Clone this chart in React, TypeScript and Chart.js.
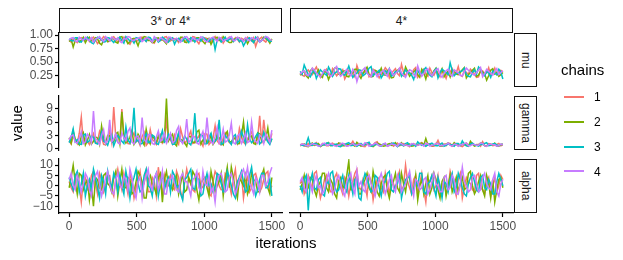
import React, { useEffect, useRef } from "react";
import { Chart, registerables } from "chart.js";
Chart.register(...registerables);

// ---------- data ----------
const iterations = [
  0, 15, 30, 45, 60, 75, 90, 105, 120, 135,
  150, 165, 180, 195, 210, 225, 240, 255, 270, 285,
  300, 315, 330, 345, 360, 375, 390, 405, 420, 435,
  450, 465, 480, 495, 510, 525, 540, 555, 570, 585,
  600, 615, 630, 645, 660, 675, 690, 705, 720, 735,
  750, 765, 780, 795, 810, 825, 840, 855, 870, 885,
  900, 915, 930, 945, 960, 975, 990, 1005, 1020, 1035,
  1050, 1065, 1080, 1095, 1110, 1125, 1140, 1155, 1170, 1185,
  1200, 1215, 1230, 1245, 1260, 1275, 1290, 1305, 1320, 1335,
  1350, 1365, 1380, 1395, 1410, 1425, 1440, 1455, 1470, 1485,
  1500,
];
const chainNames = ["1", "2", "3", "4"];
const chainColors = ["#F8766D", "#7CAE00", "#00BFC4", "#C77CFF"];
const columnLabels = ["3* or 4*", "4*"];
const rowLabels = ["mu", "gamma", "alpha"];
const xTickValues = [0, 500, 1000, 1500];
const muTicks = [0.25, 0.5, 0.75, 1.0];
const gammaTicks = [0, 3, 6, 9];
const alphaTicks = [-10, -5, 0, 5, 10];

// mu, "3* or 4*"
const muL1 = [
  0.90, 0.87, 0.93, 0.89, 0.86, 0.94, 0.95, 0.90, 0.91, 0.96,
  0.88, 0.93, 0.96, 0.91, 0.84, 0.89, 0.92, 0.97, 0.94, 0.88,
  0.89, 0.95, 0.97, 0.92, 0.87, 0.90, 0.91, 0.96, 0.95, 0.86,
  0.83, 0.91, 0.93, 0.88, 0.90, 0.95, 0.96, 0.92, 0.88, 0.94,
  0.92, 0.87, 0.85, 0.93, 0.94, 0.90, 0.91, 0.96, 0.97, 0.89,
  0.89, 0.94, 0.93, 0.91, 0.86, 0.95, 0.95, 0.88, 0.90, 0.93,
  0.92, 0.97, 0.96, 0.89, 0.84, 0.92, 0.91, 0.95, 0.94, 0.87,
  0.88, 0.93, 0.97, 0.90, 0.90, 0.95, 0.85, 0.91, 0.93, 0.96,
  0.91, 0.88, 0.95, 0.92, 0.87, 0.94, 0.92, 0.89, 0.96, 0.93,
  0.89, 0.95, 0.79, 0.90, 0.93, 0.96, 0.90, 0.87, 0.94, 0.91,
  0.88,
];
const muL2 = [
  0.88, 0.92, 0.78, 0.90, 0.94, 0.87, 0.91, 0.96, 0.86, 0.93,
  0.96, 0.89, 0.90, 0.95, 0.93, 0.85, 0.82, 0.91, 0.95, 0.88,
  0.89, 0.94, 0.92, 0.87, 0.85, 0.96, 0.97, 0.90, 0.91, 0.84,
  0.88, 0.93, 0.94, 0.89, 0.80, 0.92, 0.93, 0.97, 0.96, 0.90,
  0.90, 0.86, 0.87, 0.94, 0.95, 0.91, 0.92, 0.88, 0.84, 0.95,
  0.94, 0.90, 0.91, 0.93, 0.89, 0.96, 0.96, 0.87, 0.86, 0.92,
  0.93, 0.89, 0.90, 0.95, 0.95, 0.91, 0.88, 0.84, 0.92, 0.94,
  0.83, 0.90, 0.94, 0.96, 0.91, 0.88, 0.97, 0.93, 0.89, 0.86,
  0.86, 0.92, 0.93, 0.95, 0.95, 0.89, 0.90, 0.94, 0.84, 0.91,
  0.94, 0.87, 0.92, 0.96, 0.88, 0.90, 0.96, 0.93, 0.91, 0.85,
  0.93,
];
const muL3 = [
  0.93, 0.90, 0.89, 0.95, 0.95, 0.88, 0.87, 0.93, 0.92, 0.96,
  0.90, 0.86, 0.84, 0.91, 0.96, 0.94, 0.91, 0.87, 0.88, 0.95,
  0.94, 0.90, 0.86, 0.92, 0.93, 0.96, 0.90, 0.85, 0.97, 0.93,
  0.89, 0.91, 0.85, 0.95, 0.94, 0.88, 0.91, 0.92, 0.88, 0.96,
  0.95, 0.89, 0.92, 0.94, 0.87, 0.90, 0.96, 0.93, 0.90, 0.87,
  0.93, 0.95, 0.83, 0.91, 0.94, 0.89, 0.89, 0.96, 0.91, 0.86,
  0.95, 0.92, 0.87, 0.94, 0.92, 0.89, 0.96, 0.93, 0.90, 0.88,
  0.93, 0.95, 0.73, 0.90, 0.94, 0.87, 0.91, 0.96, 0.89, 0.92,
  0.95, 0.88, 0.92, 0.94, 0.88, 0.91, 0.80, 0.87, 0.93, 0.95,
  0.90, 0.86, 0.96, 0.92, 0.87, 0.90, 0.94, 0.97, 0.91, 0.88,
  0.89,
];
const muL4 = [
  0.91, 0.94, 0.95, 0.89, 0.88, 0.96, 0.93, 0.90, 0.96, 0.92,
  0.90, 0.95, 0.87, 0.93, 0.94, 0.97, 0.92, 0.88, 0.97, 0.93,
  0.89, 0.96, 0.93, 0.91, 0.95, 0.88, 0.86, 0.94, 0.92, 0.97,
  0.96, 0.90, 0.90, 0.93, 0.94, 0.96, 0.88, 0.91, 0.95, 0.94,
  0.91, 0.87, 0.97, 0.93, 0.89, 0.95, 0.93, 0.90, 0.86, 0.96,
  0.96, 0.91, 0.92, 0.94, 0.90, 0.87, 0.94, 0.96, 0.97, 0.92,
  0.88, 0.95, 0.93, 0.90, 0.91, 0.97, 0.95, 0.89, 0.87, 0.93,
  0.94, 0.96, 0.92, 0.88, 0.96, 0.94, 0.89, 0.91, 0.93, 0.95,
  0.97, 0.90, 0.90, 0.96, 0.94, 0.92, 0.88, 0.95, 0.92, 0.89,
  0.95, 0.93, 0.91, 0.96, 0.87, 0.90, 0.93, 0.97, 0.96, 0.92,
  0.90,
];
// mu, "4*"
const muR1 = [
  0.30, 0.26, 0.24, 0.33, 0.36, 0.29, 0.27, 0.35, 0.41, 0.31,
  0.22, 0.28, 0.33, 0.37, 0.28, 0.24, 0.38, 0.32, 0.25, 0.30,
  0.31, 0.36, 0.19, 0.27, 0.35, 0.31, 0.29, 0.23, 0.44, 0.33,
  0.26, 0.30, 0.32, 0.38, 0.23, 0.27, 0.37, 0.34, 0.30, 0.21,
  0.27, 0.32, 0.40, 0.35, 0.21, 0.29, 0.34, 0.38, 0.29, 0.25,
  0.46, 0.31, 0.25, 0.33, 0.31, 0.27, 0.36, 0.40, 0.22, 0.28,
  0.33, 0.37, 0.28, 0.24, 0.39, 0.31, 0.26, 0.34, 0.30, 0.23,
  0.35, 0.29, 0.20, 0.33, 0.32, 0.38, 0.27, 0.30, 0.42, 0.26,
  0.24, 0.35, 0.31, 0.28, 0.37, 0.33, 0.28, 0.22, 0.23, 0.36,
  0.34, 0.29, 0.30, 0.40, 0.26, 0.31, 0.39, 0.27, 0.29, 0.35,
  0.32,
];
const muR2 = [
  0.26, 0.31, 0.33, 0.25, 0.21, 0.34, 0.38, 0.29, 0.29, 0.36,
  0.25, 0.22, 0.35, 0.30, 0.18, 0.27, 0.31, 0.39, 0.40, 0.28,
  0.27, 0.33, 0.34, 0.24, 0.23, 0.32, 0.30, 0.37, 0.37, 0.26,
  0.20, 0.29, 0.36, 0.41, 0.28, 0.23, 0.24, 0.35, 0.33, 0.30,
  0.39, 0.27, 0.26, 0.34, 0.30, 0.21, 0.22, 0.31, 0.35, 0.38,
  0.28, 0.25, 0.41, 0.33, 0.24, 0.29, 0.32, 0.36, 0.27, 0.22,
  0.37, 0.31, 0.19, 0.34, 0.30, 0.26, 0.34, 0.39, 0.25, 0.30,
  0.38, 0.23, 0.29, 0.33, 0.23, 0.36, 0.33, 0.28, 0.27, 0.31,
  0.36, 0.40, 0.21, 0.27, 0.31, 0.35, 0.39, 0.24, 0.26, 0.33,
  0.32, 0.29, 0.17, 0.25, 0.35, 0.38, 0.28, 0.31, 0.24, 0.27,
  0.31,
];
const muR3 = [
  0.33, 0.28, 0.45, 0.36, 0.27, 0.23, 0.31, 0.35, 0.20, 0.29,
  0.36, 0.32, 0.29, 0.26, 0.41, 0.34, 0.24, 0.30, 0.32, 0.38,
  0.37, 0.28, 0.26, 0.33, 0.43, 0.31, 0.22, 0.27, 0.30, 0.36,
  0.35, 0.25, 0.28, 0.32, 0.39, 0.42, 0.25, 0.29, 0.31, 0.35,
  0.21, 0.27, 0.34, 0.30, 0.38, 0.24, 0.27, 0.33, 0.32, 0.37,
  0.24, 0.29, 0.36, 0.31, 0.30, 0.26, 0.18, 0.33, 0.35, 0.28,
  0.29, 0.36, 0.40, 0.31, 0.26, 0.23, 0.33, 0.38, 0.21, 0.30,
  0.37, 0.34, 0.31, 0.27, 0.49, 0.35, 0.25, 0.29, 0.30, 0.33,
  0.34, 0.39, 0.27, 0.24, 0.23, 0.31, 0.36, 0.28, 0.41, 0.37,
  0.28, 0.25, 0.33, 0.30, 0.22, 0.34, 0.30, 0.27, 0.37, 0.32,
  0.19,
];
const muR4 = [
  0.28, 0.32, 0.34, 0.27, 0.25, 0.31, 0.39, 0.35, 0.30, 0.26,
  0.23, 0.29, 0.36, 0.33, 0.31, 0.24, 0.27, 0.38, 0.42, 0.30,
  0.24, 0.28, 0.33, 0.37, 0.29, 0.25, 0.37, 0.32, 0.14, 0.27,
  0.32, 0.36, 0.40, 0.30, 0.26, 0.23, 0.35, 0.31, 0.23, 0.28,
  0.31, 0.35, 0.28, 0.24, 0.38, 0.33, 0.25, 0.29, 0.33, 0.39,
  0.30, 0.26, 0.22, 0.31, 0.36, 0.34, 0.27, 0.23, 0.43, 0.32,
  0.24, 0.29, 0.35, 0.38, 0.29, 0.25, 0.31, 0.36, 0.38, 0.27,
  0.22, 0.30, 0.34, 0.37, 0.27, 0.24, 0.36, 0.33, 0.30, 0.26,
  0.25, 0.32, 0.39, 0.35, 0.32, 0.28, 0.26, 0.31, 0.35, 0.40,
  0.23, 0.29, 0.37, 0.33, 0.30, 0.26, 0.33, 0.38, 0.27, 0.31,
  0.34,
];
// gamma, "3* or 4*"
const gammaL1 = [
  1.8, 1.1, 2.9, 2.0, 1.2, 3.5, 7.1, 1.4, 2.3, 1.7,
  1.0, 2.4, 3.4, 1.3, 1.6, 3.9, 2.7, 1.0, 0.9, 2.2,
  4.1, 1.5, 9.4, 2.6, 1.5, 1.1, 8.9, 3.0, 2.2, 1.2,
  1.1, 2.8, 3.6, 1.6, 1.9, 0.8, 2.8, 3.7, 0.8, 1.4,
  4.3, 2.1, 1.7, 1.0, 2.5, 3.2, 1.3, 1.8, 6.3, 2.4,
  2.0, 1.1, 3.1, 1.7, 1.0, 4.5, 2.6, 1.3, 1.8, 2.9,
  4.0, 1.2, 1.4, 2.3, 2.9, 1.5, 0.6, 3.4, 3.3, 1.0,
  1.6, 2.5, 5.2, 1.8, 1.2, 0.9, 2.4, 3.6, 3.0, 1.4,
  1.1, 2.0, 2.7, 1.3, 4.6, 2.8, 1.5, 1.0, 2.2, 3.1,
  3.8, 1.6, 1.3, 2.3, 7.4, 1.2, 6.5, 2.5, 2.1, 1.4,
  3.5,
];
const gammaL2 = [
  2.5, 1.3, 4.0, 2.2, 1.4, 0.9, 2.8, 3.6, 0.9, 1.9,
  3.2, 1.1, 1.7, 2.7, 2.4, 1.0, 5.1, 2.3, 1.2, 3.0,
  2.9, 1.5, 1.6, 3.4, 3.7, 1.2, 8.3, 2.6, 1.3, 1.8,
  2.6, 4.1, 1.0, 1.7, 3.3, 2.5, 1.8, 0.9, 4.4, 2.0,
  1.1, 2.9, 2.3, 1.4, 3.0, 1.6, 1.5, 2.4, 11.3, 1.8,
  2.7, 3.3, 1.2, 0.7, 3.5, 2.1, 1.9, 1.3, 0.6, 2.8,
  2.8, 1.5, 1.4, 3.8, 4.2, 1.1, 2.0, 2.6, 1.3, 1.7,
  3.1, 1.0, 1.7, 2.9, 2.5, 1.4, 0.9, 3.2, 3.9, 1.6,
  1.6, 2.2, 2.4, 1.1, 1.2, 3.0, 6.0, 1.5, 1.8, 2.7,
  2.9, 1.2, 1.0, 3.6, 3.4, 1.8, 1.5, 2.3, 4.7, 1.3,
  2.2,
];
const gammaL3 = [
  1.4, 2.6, 4.5, 1.6, 2.1, 1.1, 1.0, 3.1, 3.3, 1.5,
  1.8, 2.9, 2.6, 1.3, 1.1, 2.3, 3.8, 1.7, 1.5, 0.8,
  2.3, 3.2, 0.7, 1.9, 3.0, 2.4, 1.7, 1.2, 4.9, 2.0,
  1.3, 3.4, 9.2, 1.6, 2.0, 1.1, 1.2, 2.7, 3.4, 1.4,
  1.6, 3.1, 2.8, 1.2, 1.0, 2.5, 4.1, 1.5, 1.9, 3.3,
  2.5, 1.0, 1.1, 2.1, 3.6, 1.8, 1.4, 2.9, 2.2, 1.3,
  0.9, 2.4, 8.0, 1.5, 1.8, 3.2, 2.9, 1.1, 1.2, 2.6,
  3.5, 1.4, 1.7, 2.3, 6.5, 1.0, 1.3, 3.0, 2.4, 1.7,
  1.0, 2.8, 3.2, 1.3, 1.9, 4.0, 2.6, 1.2, 5.4, 2.2,
  1.4, 1.9, 2.8, 3.5, 1.1, 1.6, 3.7, 2.4, 1.6, 1.0,
  2.3,
];
const gammaL4 = [
  2.0, 2.9, 3.1, 1.5, 1.3, 2.4, 3.8, 1.2, 1.6, 3.3,
  2.7, 1.4, 8.5, 2.2, 1.9, 1.0, 3.0, 4.3, 1.2, 2.0,
  6.5, 1.6, 2.2, 3.4, 1.4, 1.1, 3.6, 2.5, 1.8, 3.9,
  4.7, 1.5, 1.1, 2.7, 2.9, 1.3, 7.0, 2.1, 1.5, 3.2,
  3.2, 1.2, 1.0, 2.6, 4.0, 1.7, 2.1, 3.5, 1.3, 2.3,
  3.5, 1.4, 1.7, 4.1, 5.0, 1.9, 1.2, 2.4, 6.7, 1.5,
  1.9, 3.0, 2.6, 1.3, 1.0, 2.7, 3.9, 1.6, 7.0, 2.2,
  1.6, 1.1, 2.8, 4.8, 1.3, 2.0, 4.4, 1.5, 1.8, 3.1,
  5.8, 1.4, 1.1, 2.9, 3.3, 1.2, 2.0, 3.6, 1.4, 1.7,
  6.0, 2.3, 1.7, 1.2, 3.1, 2.6, 1.2, 3.4, 2.5, 1.5,
  4.2,
];
// gamma, "4*"
const gammaR1 = [
  0.9, 1.1, 0.6, 0.8, 1.2, 0.7, 0.8, 1.0, 1.4, 0.9,
  0.5, 1.2, 1.0, 0.7, 0.7, 1.1, 1.3, 0.8, 0.9, 1.3,
  0.6, 0.9, 1.1, 0.6, 0.8, 1.0, 1.7, 0.9, 0.7, 1.2,
  1.0, 0.6, 0.5, 1.1, 1.2, 0.8, 0.9, 1.4, 1.6, 0.7,
  0.7, 1.0, 1.1, 0.6, 0.8, 1.3, 0.6, 0.9, 1.3, 0.7,
  0.9, 1.2, 1.0, 0.8, 0.5, 1.1, 1.2, 0.7, 0.8, 1.0,
  1.4, 0.9, 0.7, 1.2, 1.0, 0.6, 0.6, 1.0, 1.9, 0.8,
  0.9, 1.1, 0.7, 1.3, 1.2, 0.6, 0.8, 1.0, 1.1, 0.7,
  0.5, 0.9, 1.3, 0.8, 0.9, 1.2, 0.7, 1.0, 1.0, 0.6,
  1.6, 0.8, 0.6, 1.2, 1.1, 0.7, 0.8, 1.0, 1.2, 0.7,
  0.9,
];
const gammaR2 = [
  0.7, 0.9, 1.1, 0.6, 0.5, 1.0, 1.3, 0.8, 0.9, 1.2,
  0.6, 0.8, 1.0, 1.1, 1.4, 0.7, 0.8, 1.0, 0.6, 1.3,
  1.2, 0.7, 0.7, 0.9, 1.0, 1.2, 0.9, 0.6, 1.5, 1.0,
  0.6, 0.8, 1.1, 1.3, 0.8, 0.7, 0.5, 0.9, 1.3, 1.1,
  0.9, 0.6, 0.7, 1.0, 1.2, 0.8, 1.0, 1.4, 0.6, 0.9,
  1.4, 0.7, 0.8, 1.1, 1.1, 0.6, 0.7, 1.0, 0.9, 1.2,
  1.3, 0.8, 2.3, 0.9, 1.0, 0.7, 0.8, 1.2, 1.2, 0.6,
  0.6, 0.9, 1.1, 1.3, 0.9, 0.7, 1.4, 1.0, 0.7, 0.8,
  1.0, 1.2, 0.8, 0.6, 1.7, 1.1, 0.6, 0.8, 0.9, 1.3,
  1.2, 0.7, 0.7, 1.0, 1.0, 0.9, 1.3, 0.6, 0.6, 1.0,
  1.1,
];
const gammaR3 = [
  1.0, 0.8, 0.7, 1.1, 2.5, 0.9, 0.8, 1.2, 1.2, 0.7,
  0.6, 1.0, 0.9, 1.3, 1.3, 0.8, 0.7, 1.0, 1.1, 0.6,
  0.5, 0.9, 1.0, 1.2, 1.4, 0.7, 0.8, 1.1, 0.6, 0.9,
  1.2, 0.8, 0.9, 1.3, 1.5, 0.6, 0.7, 1.0, 1.0, 0.8,
  0.6, 1.1, 1.1, 0.7, 0.8, 1.2, 1.3, 0.9, 0.5, 1.0,
  0.9, 0.7, 1.2, 1.4, 0.7, 0.8, 1.0, 0.6, 1.6, 1.1,
  0.8, 1.0, 0.6, 0.9, 1.1, 1.3, 0.9, 0.7, 0.7, 1.0,
  1.3, 0.6, 0.8, 1.1, 1.0, 0.9, 0.6, 1.2, 1.2, 0.8,
  1.8, 1.0, 0.7, 0.6, 1.1, 1.3, 0.9, 0.8, 0.6, 1.0,
  1.0, 1.2, 1.4, 0.7, 0.8, 1.1, 1.2, 0.9, 0.7, 1.0,
  1.0,
];
const gammaR4 = [
  0.8, 1.1, 1.0, 0.7, 0.6, 0.9, 1.2, 1.0, 0.9, 0.6,
  0.7, 1.1, 1.3, 0.8, 0.8, 1.2, 1.0, 0.7, 0.6, 0.9,
  1.1, 1.3, 0.9, 0.6, 0.7, 1.0, 1.2, 0.8, 0.8, 1.1,
  1.0, 0.7, 1.4, 1.2, 0.6, 0.9, 0.9, 1.3, 1.1, 0.7,
  0.7, 1.0, 1.3, 0.6, 0.8, 1.1, 1.0, 0.9, 0.6, 1.2,
  1.2, 0.8, 0.9, 0.7, 0.7, 1.2, 1.1, 0.9, 0.8, 1.0,
  1.0, 0.6, 1.3, 1.1, 0.6, 0.8, 0.9, 1.2, 1.2, 0.7,
  0.7, 0.9, 1.0, 1.3, 0.8, 0.6, 1.1, 1.0, 0.6, 0.9,
  0.9, 1.2, 1.3, 0.7, 0.7, 1.0, 1.0, 0.8, 0.8, 1.3,
  1.2, 0.7, 0.6, 1.0, 1.1, 0.9, 0.9, 0.6, 0.7, 1.1,
  1.0,
];
// alpha, "3* or 4*"
const alphaL1 = [
  2, -1, -3, 4, 6, 0, -8, 3, 4, -2,
  -1, 5, 7, 1, -4, 6, 3, -3, 0, 5,
  5, -2, -5, 3, 8, 2, -2, 6, 1, -4,
  6, 2, -6, -1, 3, 7, -1, 1, 7, -3,
  -3, 4, 2, -5, 9, 1, -4, 5, 0, 3,
  5, -1, -2, 7, 4, -3, -6, 2, 8, 3,
  1, -2, -3, 5, 6, 0, -1, 4, 3, -4,
  -5, 2, 7, 5, 0, -2, -2, 6, 5, 1,
  -4, 3, 8, -2, 2, 6, -6, 1, 4, -3,
  -1, 5, 6, 2, -3, -1, 3, 6, 7, -2,
  0,
];
const alphaL2 = [
  -1, 4, 10, 2, -4, 6, 5, -2, 1, 3,
  -7, 0, -10, 4, 3, -1, -2, 5, 6, 1,
  0, -3, 4, 7, -5, 2, 8, -1, -1, 4,
  3, -4, -3, 2, 7, 5, 2, -6, -6, 3,
  5, 1, -1, -4, 4, 6, -8, 3, 7, 0,
  0, -2, 3, 5, -4, 1, 6, -3, -2, 4,
  1, 7, 5, -2, -7, 1, 3, 4, -1, -5,
  7, 2, -3, 0, 2, 6, -5, 3, 9, -1,
  9, 4, -2, -6, 4, 2, 0, 5, -4, -1,
  6, 3, 2, -3, -3, 5, 8, 1, -1, -4,
  4,
];
const alphaL3 = [
  4, 1, -2, 5, 7, -3, 1, 6, -5, 0,
  3, -2, 8, 4, -1, -6, 5, 2, -4, 7,
  2, -1, 6, 3, -3, 5, 0, -4, 7, 2,
  -6, 1, 4, 8, 1, -3, -2, 5, 8, 0,
  -1, -5, 3, 6, -5, 1, 6, -2, 2, 4,
  -3, 7, 5, -1, 0, -4, -7, 3, 4, 6,
  8, -1, -2, 4, 3, -5, -4, 2, 6, 0,
  1, -3, -1, 6, 5, 1, -3, -2, 7, 4,
  0, -4, -6, 2, 4, 7, 2, -3, -2, 5,
  9, 1, -5, -2, 3, 6, 6, -1, -1, 3,
  -5,
];
const alphaL4 = [
  3, 6, 0, -2, 5, 2, -3, 1, 6, 4,
  -2, -5, 2, 5, 7, 1, -5, -1, 4, 7,
  1, -3, -4, 3, 6, 0, -1, 5, 3, -2,
  8, 4, -3, -6, 2, 4, -6, 2, 5, 8,
  0, -2, 4, 6, -2, 1, 7, -4, -4, 3,
  3, 5, 1, -2, -3, 4, 6, 2, 2, -1,
  -5, 3, 4, 7, -1, -3, 7, 1, 0, 5,
  -3, -1, -8, 2, 5, 6, 2, -3, -2, 4,
  6, 2, -4, -1, 3, 6, 8, 4, 9, 1,
  -1, -4, 4, 2, -3, 5, 5, 0, 2, 6,
  9,
];
// alpha, "4*"
const alphaR1 = [
  1, 3, -4, -1, 5, 2, -2, 6, 7, 0,
  -6, -2, 3, 5, 0, -3, -3, 4, 6, 1,
  -1, -4, 4, 2, -5, 1, 2, 6, 8, -1,
  -2, 3, 0, -5, 5, 2, -7, -1, 3, 4,
  -1, -3, 6, 1, -4, 3, 1, -2, 4, 7,
  -3, 0, 10, 2, -1, -4, 3, 5, -5, 1,
  6, -2, -8, 3, 2, 5, -2, 0, 5, -3,
  0, 2, -4, -1, 7, 3, -1, -5, 3, 6,
  -6, -1, 4, 2, 1, -2, -3, 5, 6, -1,
  -2, -4, 2, 4, -5, 0, 4, -3, 0, 5,
  3,
];
const alphaR2 = [
  -2, 1, 5, -3, -1, 4, 3, -2, -5, 0,
  2, 6, 6, -1, -3, 3, 1, -4, -6, 2,
  4, -1, 0, 5, 12, -2, -2, 3, 5, -4,
  -4, 1, 3, 6, -1, -3, 7, 2, -3, -5,
  1, 4, 5, -2, -6, 0, 2, 6, -1, -3,
  6, 1, -3, 4, 4, -2, -2, 5, -7, 0,
  3, -4, 1, 5, -4, -1, 6, 3, -2, -6,
  2, 4, -5, 0, 5, -3, 0, 4, -3, 1,
  4, -2, -1, 6, 7, 0, -4, -2, 2, 5,
  -2, -5, 5, 1, -6, 3, -8, -2, 3, 4,
  -1,
];
const alphaR3 = [
  0, -3, 3, 5, -12, 2, 6, -1, -2, 3,
  4, -4, -5, 2, 1, 6, 7, 0, -3, -2,
  2, 5, -1, -3, 5, 1, -4, 3, 3, -6,
  -7, 2, 6, 4, 0, -3, -2, 5, 4, -1,
  -5, 1, 2, 6, 7, -2, -3, 0, 1, 5,
  -6, -1, 3, 4, 5, -4, -2, 2, 0, 6,
  6, -3, -4, 1, 2, 5, -1, -5, 4, 0,
  -6, 2, 1, -3, 3, 6, -3, -1, 6, 3,
  -1, -4, -5, 1, 4, 6, 2, -2, -3, 4,
  5, -1, -2, 3, 1, -4, -4, 2, 6, 3,
  0,
];
const alphaR4 = [
  2, 4, -1, -3, 4, 1, -3, 2, 5, -1,
  0, -4, -2, 3, 6, 1, -4, -2, 3, 5,
  1, -3, -5, 2, 4, 6, -1, -4, 7, 0,
  2, -2, -3, 4, 5, 1, -2, -5, 0, 3,
  6, 2, -4, -1, 3, 5, -1, -3, 5, 2,
  -3, -1, 1, 4, 7, 0, -5, 3, 2, -2,
  -1, 3, 4, -4, -2, 2, 6, 1, 0, -3,
  -3, 4, 5, -2, -1, 5, 3, -4, -4, 1,
  9, 2, 0, -3, -2, 4, 5, 1, -3, -2,
  4, 6, 1, -1, -2, 3, 6, -3, -5, 1,
  3,
];

// ---------- layout ----------
const FONT = "'Liberation Sans', Arial, Helvetica, sans-serif";
const COL_X = [59, 290];
const PANEL_W = 223;
const ROW_Y = [33, 96, 159];
const PANEL_H = 54;
const M = 14;
const YAXIS_W = 45;
const XAXIS_H = 24;

type PanelDef = {
  col: number;
  row: number;
  series: number[][];
  yMin: number;
  yMax: number;
  yTicks: number[];
  yFmt: (v: number) => string;
};

const fmtMu = (v: number) => v.toFixed(2);
const fmtInt = (v: number) => (v < 0 ? "\u2212" + Math.abs(v) : String(v));

const panels: PanelDef[] = [
  { col: 0, row: 0, series: [muL1, muL2, muL3, muL4], yMin: 0.043, yMax: 1.037, yTicks: muTicks, yFmt: fmtMu },
  { col: 1, row: 0, series: [muR1, muR2, muR3, muR4], yMin: 0.043, yMax: 1.037, yTicks: muTicks, yFmt: fmtMu },
  { col: 0, row: 1, series: [gammaL1, gammaL2, gammaL3, gammaL4], yMin: -0.25, yMax: 11.85, yTicks: gammaTicks, yFmt: fmtInt },
  { col: 1, row: 1, series: [gammaR1, gammaR2, gammaR3, gammaR4], yMin: -0.25, yMax: 11.85, yTicks: gammaTicks, yFmt: fmtInt },
  { col: 0, row: 2, series: [alphaL1, alphaL2, alphaL3, alphaL4], yMin: -13.3, yMax: 13.0, yTicks: alphaTicks, yFmt: fmtInt },
  { col: 1, row: 2, series: [alphaR1, alphaR2, alphaR3, alphaR4], yMin: -13.3, yMax: 13.0, yTicks: alphaTicks, yFmt: fmtInt },
];

function Panel({ def }: { def: PanelDef }) {
  const ref = useRef<HTMLCanvasElement>(null);
  const showY = def.col === 0;
  const showX = def.row === 2;
  const yw = showY ? YAXIS_W : 0;
  const xh = showX ? XAXIS_H : 0;
  const W = PANEL_W + yw + 2 * M;
  const H = PANEL_H + xh + 2 * M;
  const left = COL_X[def.col] - yw - M;
  const top = ROW_Y[def.row] - M;

  useEffect(() => {
    const chart = new Chart(ref.current as HTMLCanvasElement, {
      type: "line",
      data: {
        datasets: def.series.map((vals, k) => ({
          label: chainNames[k],
          data: iterations.map((x, i) => ({ x, y: vals[i] })),
          borderColor: chainColors[k],
          backgroundColor: chainColors[k],
          borderWidth: 1.5,
          pointRadius: 0,
          fill: false,
          tension: 0,
          order: 3 - k,
        })),
      },
      options: {
        responsive: false,
        animation: false,
        devicePixelRatio: 1,
        layout: { padding: M },
        plugins: { legend: { display: false }, tooltip: { enabled: false } },
        scales: {
          x: {
            type: "linear",
            min: -75,
            max: 1575,
            display: showX,
            afterBuildTicks: (s: any) => {
              s.ticks = xTickValues.map((v) => ({ value: v }));
            },
            afterFit: (s: any) => {
              s.height = showX ? XAXIS_H : 0;
            },
            grid: { drawOnChartArea: false, drawTicks: true, tickLength: 4, tickColor: "#000", tickWidth: 1.2 },
            border: { display: true, color: "#000", width: 1.2 },
            ticks: {
              font: { family: FONT, size: 12 },
              color: "#4D4D4D",
              padding: 2,
              maxRotation: 0,
              autoSkip: false,
              callback: (v: any) => String(v),
            },
          },
          y: {
            type: "linear",
            min: def.yMin,
            max: def.yMax,
            display: showY,
            afterBuildTicks: (s: any) => {
              s.ticks = def.yTicks.map((v) => ({ value: v }));
            },
            afterFit: (s: any) => {
              s.width = showY ? YAXIS_W : 0;
            },
            grid: { drawOnChartArea: false, drawTicks: true, tickLength: 4, tickColor: "#000", tickWidth: 1.2 },
            border: { display: true, color: "#000", width: 1.2 },
            ticks: {
              font: { family: FONT, size: 12 },
              color: "#4D4D4D",
              padding: 2,
              autoSkip: false,
              callback: (v: any) => def.yFmt(Number(v)),
            },
          },
        },
      },
    } as any);
    return () => chart.destroy();
  }, []);

  return (
    <canvas
      ref={ref}
      width={W}
      height={H}
      style={{ position: "absolute", left, top, width: W, height: H }}
    />
  );
}

const stripBase: React.CSSProperties = {
  position: "absolute",
  boxSizing: "border-box",
  border: "1.5px solid #111",
  background: "#fff",
  color: "#1A1A1A",
  fontSize: 12,
  display: "flex",
  alignItems: "center",
  justifyContent: "center",
};

export default function App() {
  return (
    <div
      style={{
        position: "absolute",
        left: 0,
        top: 0,
        width: 623,
        height: 260,
        background: "#fff",
        fontFamily: FONT,
        overflow: "hidden",
      }}
    >
      {columnLabels.map((lab, c) => (
        <div key={lab} style={{ ...stripBase, left: COL_X[c], top: 8, width: PANEL_W, height: 25 }}>
          {lab}
        </div>
      ))}
      {rowLabels.map((lab, r) => (
        <div
          key={lab}
          style={{ ...stripBase, left: 514, top: ROW_Y[r], width: 23, height: PANEL_H }}
        >
          <span style={{ writingMode: "vertical-rl" }}>{lab}</span>
        </div>
      ))}
      {panels.map((p, i) => (
        <Panel key={i} def={p} />
      ))}
      <div
        style={{
          position: "absolute",
          left: 17 - 40,
          top: 123 - 10,
          width: 80,
          height: 20,
          lineHeight: "20px",
          textAlign: "center",
          fontSize: 15,
          color: "#000",
          transform: "rotate(-90deg)",
        }}
      >
        value
      </div>
      <div
        style={{
          position: "absolute",
          left: 286 - 60,
          top: 243 - 10,
          width: 120,
          height: 20,
          lineHeight: "20px",
          textAlign: "center",
          fontSize: 15,
          color: "#000",
        }}
      >
        iterations
      </div>
      <div
        style={{
          position: "absolute",
          left: 561,
          top: 61,
          height: 18,
          lineHeight: "18px",
          fontSize: 15,
          color: "#000",
        }}
      >
        chains
      </div>
      {chainNames.map((n, k) => (
        <React.Fragment key={n}>
          <div
            style={{
              position: "absolute",
              left: 564,
              top: 96 + k * 24.8,
              width: 20,
              height: 2,
              background: chainColors[k],
            }}
          />
          <div
            style={{
              position: "absolute",
              left: 594,
              top: 97.3 + k * 24.8 - 8,
              height: 16,
              lineHeight: "16px",
              fontSize: 12,
              color: "#000",
            }}
          >
            {n}
          </div>
        </React.Fragment>
      ))}
    </div>
  );
}
